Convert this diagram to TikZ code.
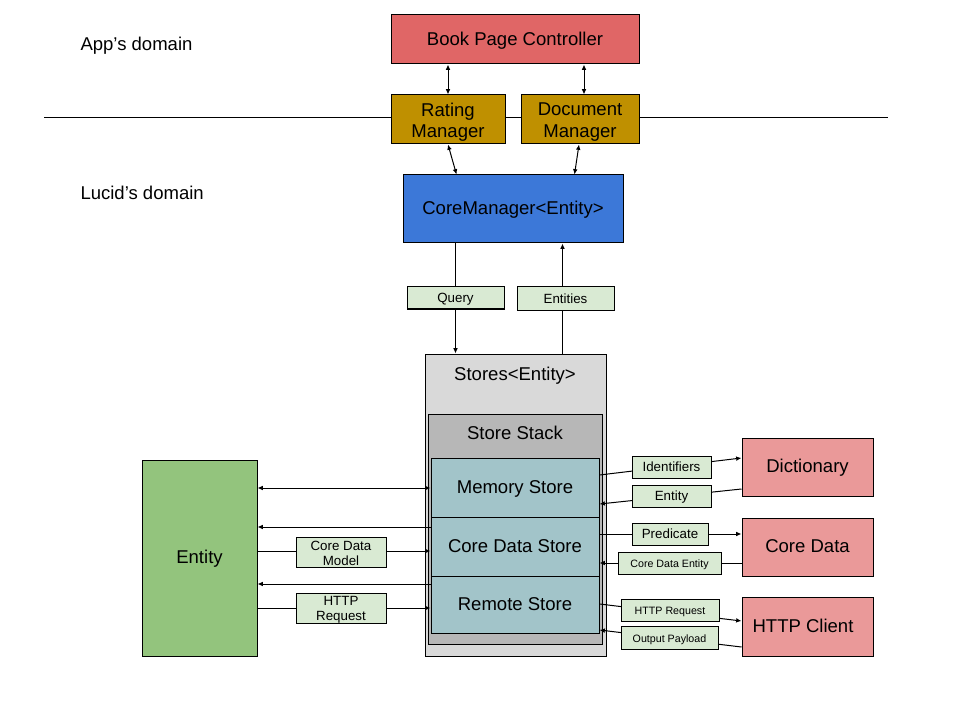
\documentclass[tikz,border=0pt]{standalone}
\usepackage{fontspec}
\setmainfont{Liberation Sans}
\usetikzlibrary{fit,arrows.meta,calc}
\definecolor{ctrl}{HTML}{E06666}
\definecolor{mgr}{HTML}{BF9000}
\definecolor{core}{HTML}{3C78D8}
\definecolor{stores}{HTML}{D9D9D9}
\definecolor{stack}{HTML}{B7B7B7}
\definecolor{store}{HTML}{A2C4C9}
\definecolor{ent}{HTML}{93C47D}
\definecolor{ext}{HTML}{EA9999}
\definecolor{lblc}{HTML}{D9EAD3}
\newcommand\bigf{\fontsize{13.9}{16}\selectfont}
\newcommand\midf{\fontsize{10}{11.5}\selectfont}
\newcommand\smlf{\fontsize{8}{9.5}\selectfont}
\begin{document}
\begin{tikzpicture}[x=0.75pt,y=-0.75pt,line width=0.75pt,
  >={Latex[length=4pt,width=3.5pt]},
  box/.style={draw=black,line width=0.75pt,inner sep=0pt,rectangle},
  bt/.style={label={[font=\bigf,inner sep=0pt,text height=0.716em,text depth=0pt,yshift=-0.75pt]center:#1}},
  bt2/.style={label={[font=\bigf,align=center,inner sep=0pt,yshift=-1.8pt]center:#1}},
  lbl/.style={draw=black,line width=0.75pt,fill=lblc,inner sep=0pt,rectangle},
  mt/.style={label={[font=\midf,inner sep=0pt,text height=0.716em,text depth=0pt]center:#1}},
  mt2/.style={label={[font=\midf,align=center,inner sep=0pt,yshift=-1.2pt]center:#1}},
  st/.style={label={[font=\smlf,inner sep=0pt,text height=0.716em,text depth=0pt]center:#1}},
  title/.style={font=\bigf,inner sep=0pt,text height=0.716em,text depth=0pt}]
\useasboundingbox (0,0) rectangle (960,720);

% divider
\draw (44,118) -- (888,118);

\node[title,anchor=west] (app) at (80,46) {App’s domain};
\node[title,anchor=west] (lucid) at (80,195) {Lucid’s domain};

\node[box,fill=ctrl,fit={(391,15) (639,64)},bt={Book Page Controller}] (bpc) {};
\node[box,fill=mgr,fit={(391,95) (505,144)},bt2={{Rating\\Manager}}] (rm) {};
\node[box,fill=mgr,fit={(521,95) (639,144)},bt2={{Document\\Manager}}] (dm) {};
\node[box,fill=core,fit={(403,175) (623,243)},bt={CoreManager<Entity>}] (cm) {};

\node[box,fill=stores,fit={(425,354) (606,656)}] (st) {};
\node[title] (sttitle) at (515,376) {Stores<Entity>};
\node[box,fill=stack,fit={(428,414) (602,644)}] (stk) {};
\node[title] (stktitle) at (515,435) {Store Stack};
\node[box,fill=store,fit={(431,458) (599,517)},bt={Memory Store}] (ms) {};
\node[box,fill=store,fit={(431,517) (599,576)},bt={Core Data Store}] (cds) {};
\node[box,fill=store,fit={(431,576) (599,633)},bt={Remote Store}] (rs) {};

\node[box,fill=ent,fit={(142,460) (257,656)},bt={Entity}] (entity) {};

\node[box,fill=ext,fit={(742,438) (873,496)},bt={Dictionary}] (dict) {};
\node[box,fill=ext,fit={(742,518) (873,576)},bt={Core Data}] (cd) {};
\node[box,fill=ext,fit={(742,597) (873,656)}] (hc) {};
\node[title] (hctext) at (803,628) {HTTP Client};

% anchor points
\coordinate (d1) at ($(dm.north)+(4,0)$);
\coordinate (d2) at ($(dm.south)+(-1,0)$);
\coordinate (c1) at ($(cm.north west)+(54,0)$);
\coordinate (c2) at ($(cm.north west)+(172,0)$);
\coordinate (q1) at ($(cm.south west)+(53,0)$);
\coordinate (q2) at ($(st.north west)+(31,0)$);
\coordinate (e1) at ($(st.north west)+(138,0)$);
\coordinate (e2) at ($(cm.south west)+(160,0)$);

% connectors top
\draw[<->] (rm.north |- bpc.south) -- (rm.north);
\draw[<->] (d1 |- bpc.south) -- (d1);
\draw[<->] (rm.south) -- (c1);
\draw[<->] (d2) -- (c2);

% query / entities
\draw[->] (q1) -- (q2);
\draw[->] (e1) -- (e2);

% left side
\draw[<->] (entity.east |- 0,488) -- (ms.west |- 0,488);
\draw[->] (cds.west |- 0,527) -- (entity.east |- 0,527);
\draw[->] (entity.east |- 0,551) -- (cds.west |- 0,551);
\draw[->] (rs.west |- 0,584) -- (entity.east |- 0,584);
\draw[->] (entity.east |- 0,608) -- (rs.west |- 0,608);

% right side
\draw[->] (ms.east |- 0,475) -- (dict.west |- 0,458);
\draw[->] (dict.west |- 0,489) -- (ms.east |- 0,504);
\draw[->] (cds.east |- 0,534) -- (cd.west |- 0,534);
\draw[->] (cd.west |- 0,563) -- (cds.east |- 0,563);
\draw[->] (rs.east |- 0,604) -- (hc.west |- 0,621);
\draw[->] (hc.west |- 0,647) -- (rs.east |- 0,630);

% labels on connectors
\node[lbl,fit={(407,287) (504,309)},mt={Query}] (lq) {};
\node[lbl,fit={(517,287) (614,310)},mt={Entities}] (le) {};
\node[lbl,fit={(296,537) (386,567)},mt2={{Core Data\\Model}}] (lcdm) {};
\node[lbl,fit={(296,593) (386,623)},mt2={{HTTP\\Request}}] (lhttp) {};
\node[lbl,fit={(632,456) (711,478)},mt={Identifiers}] (lid) {};
\node[lbl,fit={(632,485) (711,507)},mt={Entity}] (lent) {};
\node[lbl,fit={(632,523) (708,545)},mt={Predicate}] (lpred) {};
\node[lbl,fit={(618,552) (721,574)},st={Core Data Entity}] (lcde) {};
\node[lbl,fit={(621,599) (719,621)},st={HTTP Request}] (lhr) {};
\node[lbl,fit={(621,626) (718,649)},st={Output Payload}] (lop) {};
\end{tikzpicture}
\end{document}
